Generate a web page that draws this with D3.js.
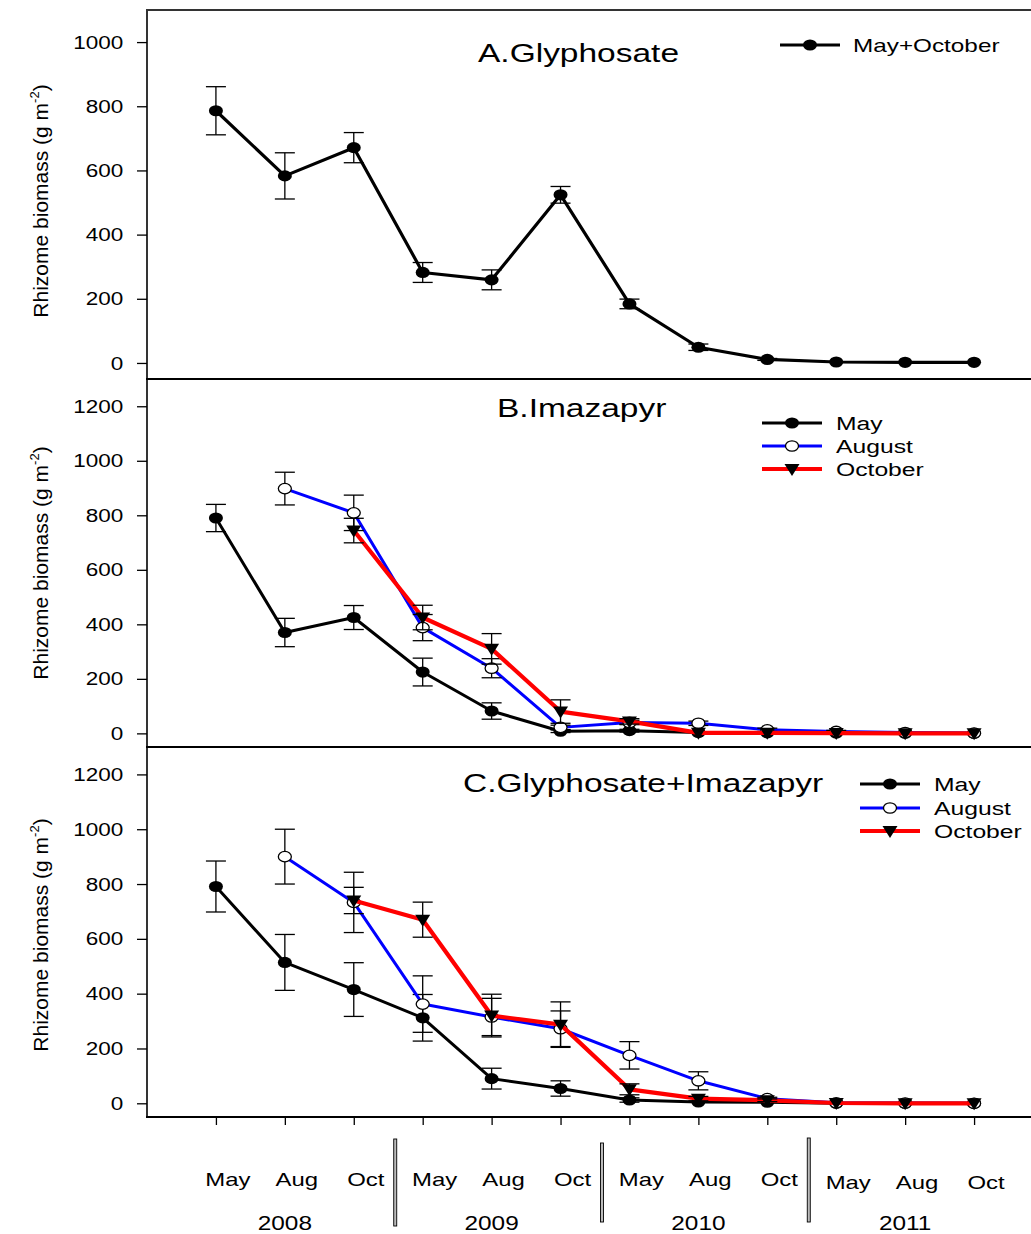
<!DOCTYPE html>
<html><head><meta charset="utf-8">
<script src="https://cdn.jsdelivr.net/npm/d3@7"></script>
<style>
body{margin:0;background:#fff}
text{font-family:"Liberation Sans",Arial,Helvetica,sans-serif;fill:#000}
</style>
</head><body>
<svg id="c" width="1031" height="1234"></svg>
<script>
// ---- data ----
const timeIndex = [0,1,2,3,4,5,6,7,8,9,10,11];
const monthLabels = ["May","Aug","Oct","May","Aug","Oct","May","Aug","Oct","May","Aug","Oct"];
const yearLabels = ["2008","2009","2010","2011"];
const seriesNames = ["May","August","October"];

// Panel A: Glyphosate (May+October)
const glyMayOct    = [786, 583, 671, 282, 259, 524, 184, 49, 11, 3, 2, 2];
const glyMayOctErr = [75, 72, 47, 31, 31, 26, 15, 10, 3, 0, 0, 0];

// Panel B: Imazapyr
const imaMay    = [790, 370, 425, 225, 82, 8, 10, 3, 2, 1, 0, 0];
const imaMayErr = [50, 52, 44, 51, 30, 5, 5, 0, 0, 0, 0, 0];
const imaAug    = [null, 898, 809, 388, 239, 22, 40, 37, 13, 7, 3, 1];
const imaAugErr = [null, 60, 65, 48, 35, 8, 8, 8, 6, 4, 0, 0];
const imaOct    = [null, null, 744, 425, 310, 80, 44, 2, 2, 1, 0, 0];
const imaOctErr = [null, null, 45, 45, 56, 43, 10, 0, 0, 0, 0, 0];

// Panel C: Glyphosate+Imazapyr
const gimMay    = [791, 514, 415, 312, 90, 54, 12, 5, 4, 0, 0, 0];
const gimMayErr = [93, 102, 98, 85, 38, 28, 8, 0, 0, 0, 0, 0];
const gimAug    = [null, 900, 733, 362, 315, 272, 175, 82, 17, 2, 1, 0];
const gimAugErr = [null, 100, 110, 103, 68, 65, 50, 33, 5, 0, 0, 0];
const gimOct    = [null, null, 740, 670, 320, 287, 51, 17, 11, 1, 0, 0];
const gimOctErr = [null, null, 48, 64, 78, 83, 20, 8, 5, 0, 0, 0];

const ticksA = [0,200,400,600,800,1000];
const ticksBC = [0,200,400,600,800,1000,1200];

// ---- drawing ----
const svg = d3.select("#c");
const x = d3.scaleLinear().domain([-1, 12]).range([147, 1043]);
const styles = {
  May:     {color:"#000", marker:"filled", width:3},
  August:  {color:"#0000ff", marker:"open", width:3},
  October: {color:"#ff0000", marker:"tri", width:4.2},
  "May+October": {color:"#000", marker:"filled", width:3.2}
};

function stext(g, px, py, str, size, sx, anchor){
  return g.append("text")
    .attr("transform", `translate(${px},${py}) scale(${sx},1)`)
    .attr("text-anchor", anchor || "start")
    .attr("font-size", size)
    .text(str);
}
function marker(g, type, cx, cy){
  if(type==="filled"){
    g.append("ellipse").attr("cx",cx).attr("cy",cy).attr("rx",7).attr("ry",5.6).attr("fill","#000");
  } else if(type==="open"){
    g.append("ellipse").attr("cx",cx).attr("cy",cy).attr("rx",6.5).attr("ry",5.2)
      .attr("fill","#fff").attr("stroke","#000").attr("stroke-width",1.3);
  } else {
    g.append("path").attr("transform",`translate(${cx},${cy})`)
      .attr("d","M-7.5,-5L7.5,-5L0,7Z").attr("fill","#000");
  }
}

const panels = [
  {title:"A.Glyphosate", tx:478, ty:62, top:10, bottom:379, domain:[-50,1100], ticks:ticksA, ylab:201,
   series:[{name:"May+October", v:glyMayOct, e:glyMayOctErr}],
   legend:{x1:780, x2:840, tx:853, ys:[45], size:18, sx:1.35}},
  {title:"B.Imazapyr", tx:497, ty:417, top:379, bottom:747, domain:[-50,1300], ticks:ticksBC, ylab:563,
   series:[{name:"May", v:imaMay, e:imaMayErr},{name:"August", v:imaAug, e:imaAugErr},{name:"October", v:imaOct, e:imaOctErr}],
   legend:{x1:762, x2:822, tx:836, ys:[423,446,469], size:19, sx:1.3}},
  {title:"C.Glyphosate+Imazapyr", tx:463, ty:792, top:747, bottom:1117, domain:[-50,1300], ticks:ticksBC, ylab:935,
   series:[{name:"May", v:gimMay, e:gimMayErr},{name:"August", v:gimAug, e:gimAugErr},{name:"October", v:gimOct, e:gimOctErr}],
   legend:{x1:860, x2:920, tx:934, ys:[784,808,831], size:19, sx:1.3}}
];

panels.forEach((p, pi) => {
  const g = svg.append("g");
  const y = d3.scaleLinear().domain(p.domain).range([p.bottom, p.top]);

  // y axis
  const ax = g.append("g").attr("transform","translate(147,0)")
    .call(d3.axisLeft(y).tickValues(p.ticks).tickFormat(d3.format("d")).tickSize(10).tickPadding(9).tickSizeOuter(0));
  ax.select(".domain").remove();
  ax.selectAll(".tick line").attr("stroke","#000").attr("stroke-width",1.3);
  ax.selectAll(".tick text")
    .attr("font-size",18).attr("font-family","Liberation Sans, Arial, sans-serif").attr("fill","#000")
    .attr("transform","scale(1.25,1)").attr("dy","0.34em");

  // frame lines
  g.append("line").attr("x1",147).attr("x2",147).attr("y1",p.top).attr("y2",p.bottom)
    .attr("stroke","#000").attr("stroke-width",1.6);
  if(pi===0){
    g.append("line").attr("x1",146).attr("x2",1031).attr("y1",p.top).attr("y2",p.top)
      .attr("stroke","#333").attr("stroke-width",1.8);
  }
  g.append("line").attr("x1",146).attr("x2",1031).attr("y1",p.bottom).attr("y2",p.bottom)
    .attr("stroke","#000").attr("stroke-width",2.2);

  // y label
  const yl = g.append("text").attr("transform",`translate(48,${p.ylab}) rotate(-90)`)
    .attr("text-anchor","middle").attr("font-size",21);
  yl.append("tspan").text("Rhizome biomass (g m");
  yl.append("tspan").attr("font-size",13).attr("dy",-9).text("-2");
  yl.append("tspan").attr("dy",9).text(")");

  // title
  stext(g, p.tx, p.ty, p.title, 25, 1.34, "start");

  // series
  p.series.forEach(s => {
    const st = styles[s.name];
    const pts = timeIndex.map(i => ({i, v:s.v[i], e:s.e[i]})).filter(d => d.v != null);
    const line = d3.line().x(d => x(d.i)).y(d => y(d.v));
    g.append("path").datum(pts).attr("d",line).attr("fill","none")
      .attr("stroke",st.color).attr("stroke-width",st.width).attr("stroke-linejoin","round");
    pts.filter(d => d.e > 0).forEach(d => {
      const cx = x(d.i), y1 = y(d.v + d.e), y2 = y(d.v - d.e);
      g.append("line").attr("x1",cx).attr("x2",cx).attr("y1",y1).attr("y2",y2).attr("stroke","#000").attr("stroke-width",1.3);
      g.append("line").attr("x1",cx-10).attr("x2",cx+10).attr("y1",y1).attr("y2",y1).attr("stroke","#000").attr("stroke-width",1.3);
      g.append("line").attr("x1",cx-10).attr("x2",cx+10).attr("y1",y2).attr("y2",y2).attr("stroke","#000").attr("stroke-width",1.3);
    });
    pts.forEach(d => marker(g, st.marker, x(d.i), y(d.v)));
  });

  // legend
  p.series.forEach((s, k) => {
    const st = styles[s.name];
    const ly = p.legend.ys[k];
    g.append("line").attr("x1",p.legend.x1).attr("x2",p.legend.x2).attr("y1",ly).attr("y2",ly)
      .attr("stroke",st.color).attr("stroke-width",st.width);
    marker(g, st.marker, (p.legend.x1+p.legend.x2)/2, ly);
    stext(g, p.legend.tx, ly + 7, s.name, p.legend.size, p.legend.sx, "start");
  });

  // bottom axis ticks on last panel
  if(pi === panels.length-1){
    const bx = g.append("g").attr("transform",`translate(0,${p.bottom})`)
      .call(d3.axisBottom(x).tickValues(timeIndex).tickSize(8).tickFormat(""));
    bx.select(".domain").remove();
    bx.selectAll(".tick line").attr("stroke","#000").attr("stroke-width",1.3);
  }
});

// month / year labels
const lab = svg.append("g");
monthLabels.forEach((m, i) => {
  stext(lab, x(i) + 12, 1186 + (i >= 9 ? 3 : 0), m, 18, 1.33, "middle");
});
yearLabels.forEach((yr, k) => {
  stext(lab, x(3*k + 1), 1230, yr, 19.5, 1.25, "middle");
});
[2.5, 5.5, 8.5].forEach((b, k) => {
  const bxp = x(b) + 7;
  const y1 = [1139,1143,1138][k], y2 = [1226,1222,1222][k];
  lab.append("rect").attr("x",bxp-1.5).attr("y",y1).attr("width",3).attr("height",y2-y1)
    .attr("fill","#bbb").attr("stroke","#000").attr("stroke-width",0.9);
});
</script>
</body></html>
